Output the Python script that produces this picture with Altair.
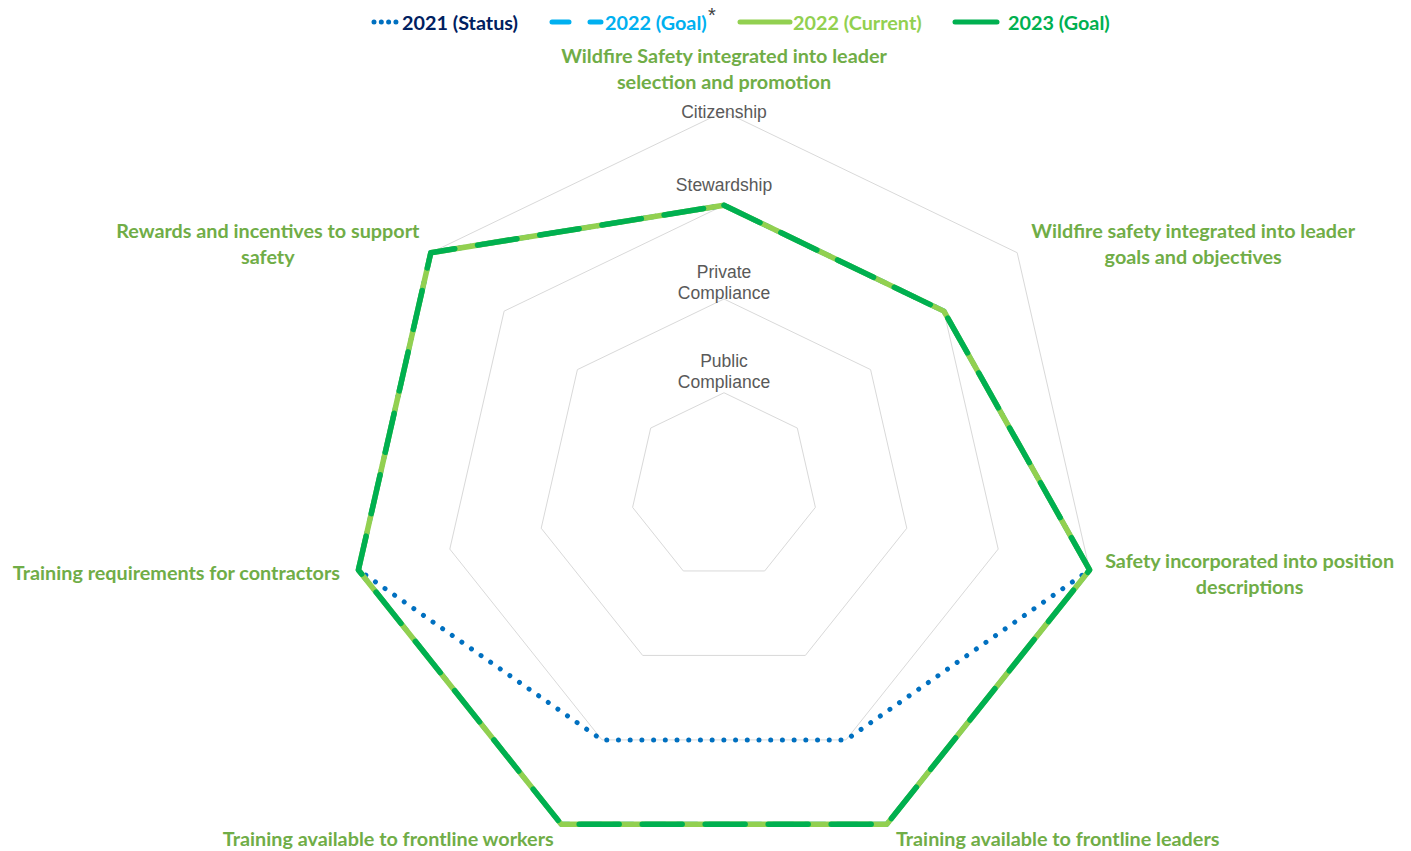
import math
import altair as alt
import pandas as pd

# ---------------- data ----------------
categories = [
    "Wildfire Safety integrated into leader\nselection and promotion",
    "Wildfire safety integrated into leader\ngoals and objectives",
    "Safety incorporated into position\ndescriptions",
    "Training available to frontline leaders",
    "Training available to frontline workers",
    "Training requirements for contractors",
    "Rewards and incentives to support\nsafety",
]
series_names = ["2021 (Status)", "2022 (Goal)", "2022 (Current)", "2023 (Goal)"]
status_2021 = [3, 3, 4, 3, 3, 4, 4]
goal_2022 = [3, 3, 4, 4, 4, 4, 4]
current_2022 = [3, 3, 4, 4, 4, 4, 4]
goal_2023 = [3, 3, 4, 4, 4, 4, 4]
level_names = ["Public\nCompliance", "Private\nCompliance", "Stewardship", "Citizenship"]
level_values = [1, 2, 3, 4]

# ---------------- layout ----------------
W, H = 1411, 851
CX, CY = 724, 486.5
UNIT = 93.75  # pixels per level
N = len(categories)


def ang(i):
    return math.pi / 2 - i * 2 * math.pi / N


def polygon(values):
    rows = []
    for k in range(N + 1):
        i = k % N
        v = values[i]
        rows.append({"x": v * math.cos(ang(i)), "y": v * math.sin(ang(i)), "o": k})
    return pd.DataFrame(rows)


def px(p):
    return (p - CX) / UNIT


def py(p):
    return (CY - p) / UNIT


xs = alt.Scale(domain=[px(0), px(W)], nice=False, zero=False)
ys = alt.Scale(domain=[py(H), py(0)], nice=False, zero=False)


def xy(df):
    return dict(
        x=alt.X("x:Q", scale=xs, axis=None),
        y=alt.Y("y:Q", scale=ys, axis=None),
    )


layers = []

# grid heptagons
for lv in level_values:
    df = polygon([lv] * N)
    layers.append(
        alt.Chart(df).mark_line(color="#D9D9D9", strokeWidth=1).encode(
            order="o:Q", **xy(df)
        )
    )

# ring labels
RING_LH = 21
ring_dy = [-21, -17, -20, 0]
for lv, name, d in zip(level_values, level_names, ring_dy):
    nl = name.count("\n")
    df = pd.DataFrame([{"x": 0.0, "y": float(lv), "t": name}])
    layers.append(
        alt.Chart(df).mark_text(
            font="Liberation Sans", fontSize=17.5, color="#595959",
            lineBreak="\n", lineHeight=RING_LH, align="center", baseline="middle",
            dy=d - nl * RING_LH / 2 + 1,
        ).encode(text="t:N", **xy(df))
    )

# series lines
styles = {
    "2021 (Status)": dict(color="#0070C0", strokeWidth=5, strokeDash=[0.01, 11.7], strokeCap="round"),
    "2022 (Goal)": dict(color="#00B0F0", strokeWidth=5, strokeDash=[20, 12], strokeCap="round"),
    "2022 (Current)": dict(color="#92D050", strokeWidth=5.5, strokeCap="round", strokeJoin="round"),
    "2023 (Goal)": dict(color="#00B050", strokeWidth=5.5, strokeDash=[40, 23], strokeCap="round", strokeJoin="round"),
}
for name, vals in zip(series_names, [status_2021, goal_2022, current_2022, goal_2023]):
    df = polygon(vals)
    layers.append(
        alt.Chart(df).mark_line(**styles[name]).encode(order="o:Q", **xy(df))
    )

# category labels
CAT_LH = 26
lab_off = [(0, -43.5), (176, -9.7), (160, 3), (171, 13.6), (-173, 13.6), (-182, 2), (-163, -9.7)]
for i, (lab, (ddx, ddy)) in enumerate(zip(categories, lab_off)):
    nl = lab.count("\n")
    df = pd.DataFrame([{"x": 4 * math.cos(ang(i)), "y": 4 * math.sin(ang(i)), "t": lab}])
    layers.append(
        alt.Chart(df).mark_text(
            font="Lato", fontWeight="bold", fontSize=19.8, color="#70AD47",
            lineBreak="\n", lineHeight=CAT_LH, align="center", baseline="middle",
            dx=ddx, dy=ddy - nl * CAT_LH / 2 + 2,
        ).encode(text="t:N", **xy(df))
    )

# legend
leg_y = 22
leg_items = [
    # marker x0, x1, text x, text color
    ("2021 (Status)", 374, 396, 402, "#002060"),
    ("2022 (Goal)", 552, 601, 605, "#00B0F0"),
    ("2022 (Current)", 740, 790, 793, "#92D050"),
    ("2023 (Goal)", 955, 997, 1008, "#00B050"),
]
leg_dash = {
    "2021 (Status)": dict(strokeDash=[0.01, 7.3]),
    "2022 (Goal)": dict(strokeDash=[17, 21]),
    "2022 (Current)": dict(),
    "2023 (Goal)": dict(),
}
for name, x0, x1, tx, tc in leg_items:
    st = styles[name]
    dfm = pd.DataFrame([{"x": px(x0), "x2": px(x1), "y": py(leg_y)}])
    layers.append(
        alt.Chart(dfm).mark_rule(
            color=st["color"], strokeWidth=5, strokeCap="round", **leg_dash[name]
        ).encode(
            x=alt.X("x:Q", scale=xs, axis=None), x2="x2:Q",
            y=alt.Y("y:Q", scale=ys, axis=None),
        )
    )
    dft = pd.DataFrame([{"x": px(tx), "y": py(leg_y), "t": name}])
    layers.append(
        alt.Chart(dft).mark_text(
            font="Lato", fontWeight="bold", fontSize=19.8, color=tc,
            align="left", baseline="middle", dy=2,
        ).encode(text="t:N", **xy(dft))
    )

# asterisk on 2022 (Goal)
dfa = pd.DataFrame([{"x": px(708), "y": py(16), "t": "*"}])
layers.append(
    alt.Chart(dfa).mark_text(
        font="Liberation Sans", fontSize=20, color="#404040",
        align="left", baseline="middle",
    ).encode(text="t:N", **xy(dfa))
)

chart = alt.layer(*layers).properties(
    width=W, height=H, padding=0, autosize=alt.AutoSizeParams(type="none"),
    background="white",
).configure_view(stroke=None)

chart.save("out.html", embed_options={"renderer": "svg", "actions": False})
